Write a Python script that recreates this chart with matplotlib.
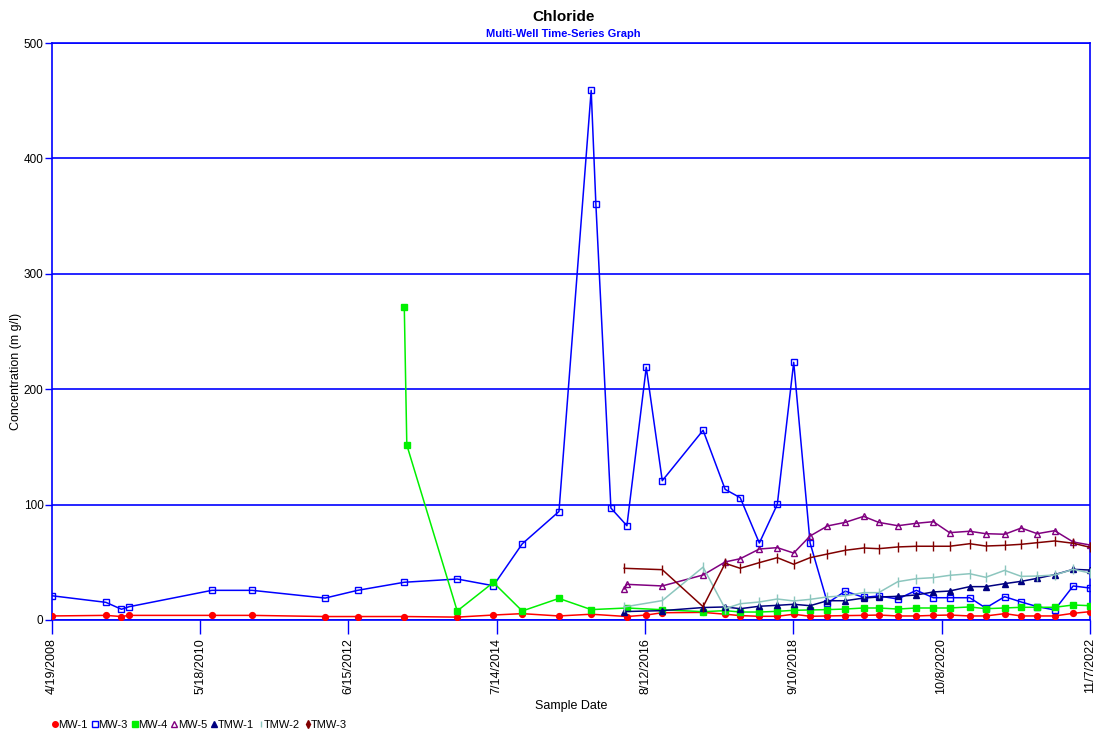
"""Chloride multi-well time-series chart."""

import matplotlib
matplotlib.use('Agg')
import matplotlib.pyplot as plt
from matplotlib.lines import Line2D
import pandas as pd

plt.rcParams['font.family'] = ['Liberation Sans', 'DejaVu Sans']

# ── Sample data (mg/l) ──
mw1_dates = ['2008-04-19', '2009-01-20', '2009-04-10', '2009-05-19', '2010-07-17', '2011-02-08',
             '2012-02-17', '2012-08-01', '2013-03-28', '2013-12-24', '2014-06-27', '2014-11-22',
             '2015-05-29', '2015-11-10', '2016-05-11', '2016-08-18', '2016-11-08', '2017-06-05',
             '2017-09-26', '2017-12-12', '2018-03-20', '2018-06-20', '2018-09-12', '2018-12-05',
             '2019-03-04', '2019-06-03', '2019-09-05', '2019-11-21', '2020-02-27', '2020-06-01',
             '2020-08-27', '2020-11-18', '2021-03-01', '2021-05-22', '2021-08-27', '2021-11-20',
             '2022-02-10', '2022-05-10', '2022-08-13', '2022-11-07']
mw1_vals = [3.5, 4, 3, 4, 4, 4, 3, 3, 3, 2.5, 4.3, 5.5, 3.5, 5, 3, 4.3, 6.3, 6.6, 5, 3.8,
            3.2, 3.2, 5, 3.2, 3.5, 3.8, 4, 4.3, 3.5, 3.5, 4, 4.3, 3.5, 3.5, 5.5, 3.5, 3.5,
            3.5, 5.8, 7.2]

mw3_dates = ['2008-04-19', '2009-01-20', '2009-04-10', '2009-05-19', '2010-07-17', '2011-02-08',
             '2012-02-17', '2012-08-01', '2013-03-28', '2013-12-24', '2014-06-27', '2014-11-22',
             '2015-05-29', '2015-11-10', '2015-12-04', '2016-02-19', '2016-05-11', '2016-08-18',
             '2016-11-08', '2017-06-05', '2017-09-26', '2017-12-12', '2018-03-20', '2018-06-20',
             '2018-09-12', '2018-12-05', '2019-03-04', '2019-06-03', '2019-09-05', '2019-11-21',
             '2020-02-27', '2020-06-01', '2020-08-27', '2020-11-18', '2021-03-01', '2021-05-22',
             '2021-08-27', '2021-11-20', '2022-02-10', '2022-05-10', '2022-08-13', '2022-11-07']
mw3_vals = [21, 15.3, 9.3, 11.5, 25.7, 25.7, 19, 25.7, 32.7, 35.5, 29.7, 66, 94, 459, 360.5,
            97, 81.7, 219, 120.7, 164.4, 113.2, 106, 66.7, 100.2, 223.3, 66.7, 14.7, 25,
            19.6, 20.8, 18.2, 25.7, 19.3, 19.3, 19.3, 10.4, 20.2, 15.6, 11.6, 8.7, 29.5, 27.7]

mw4_dates = ['2013-03-28', '2013-04-10', '2013-12-24', '2014-06-27', '2014-11-22', '2015-05-29',
             '2015-11-10', '2016-05-11', '2016-11-08', '2017-06-05', '2017-09-26', '2017-12-12',
             '2018-03-20', '2018-06-20', '2018-09-12', '2018-12-05', '2019-03-04', '2019-06-03',
             '2019-09-05', '2019-11-21', '2020-02-27', '2020-06-01', '2020-08-27', '2020-11-18',
             '2021-03-01', '2021-05-22', '2021-08-27', '2021-11-20', '2022-02-10', '2022-05-10',
             '2022-08-13', '2022-11-07']
mw4_vals = [271.5, 151.6, 7.8, 32.5, 7.8, 18.7, 9, 10.4, 8.9, 7.2, 8.1, 6.9, 6.9, 7.5, 8.4,
            8.7, 9, 9.5, 10.4, 10.4, 9.5, 10.4, 10.4, 10.4, 11.3, 9.8, 10.4, 11, 11, 11, 13, 12.4]

# newer wells share one sampling schedule (MW-5 has one extra early sample)
late_dates = ['2016-04-27', '2016-11-08', '2017-06-05', '2017-09-26', '2017-12-12', '2018-03-20',
              '2018-06-20', '2018-09-12', '2018-12-05', '2019-03-04', '2019-06-03', '2019-09-05',
              '2019-11-21', '2020-02-27', '2020-06-01', '2020-08-27', '2020-11-18', '2021-03-01',
              '2021-05-22', '2021-08-27', '2021-11-20', '2022-02-10', '2022-05-10', '2022-08-13',
              '2022-11-07']
mw5_dates = late_dates[:1] + ['2016-05-11'] + late_dates[1:]
mw5_vals = [26.9, 30.9, 29.5, 39, 50.3, 53.1, 61.5, 62.7, 58, 72.8, 81.5, 84.6, 89.8, 84.6,
            81.7, 83.8, 85.2, 75.7, 76.9, 74.8, 74.3, 79.7, 74.8, 77.4, 67.6, 65]
tmw1_vals = [7.3, 8.1, 10.8, 11.3, 9.8, 11.9, 12.7, 13.6, 12.4, 16.7, 16.7, 19, 19.9, 20.5,
             21.7, 24.3, 25.1, 28.9, 28.9, 31.5, 33.5, 36.1, 39.3, 43.9, 43.3]
tmw2_vals = [11.3, 16.8, 45.8, 9.8, 14.1, 15.6, 18.2, 16.5, 17.9, 20, 21, 23.7, 23.7, 33.2,
             35.8, 36.7, 38.7, 40.1, 37, 43, 37.8, 38.1, 39, 43.9, 40.7]
tmw3_vals = [44.8, 43.6, 11.5, 49.1, 44.8, 49.7, 54, 48.3, 54, 57.2, 60.4, 62.4, 61.8, 63.3,
             63.9, 63.9, 63.9, 66.1, 64.1, 64.7, 65.6, 67, 68.5, 66.5, 63]

tick_dates = ['2008-04-19', '2010-05-18', '2012-06-15', '2014-07-14', '2016-08-12',
              '2018-09-10', '2020-10-08', '2022-11-07']
tick_labels = ['4/19/2008', '5/18/2010', '6/15/2012', '7/14/2014', '8/12/2016',
               '9/10/2018', '10/8/2020', '11/7/2022']

AXIS_BLUE = '#0000FF'

# name, dates, values, color, marker, filled
series = [
    ('MW-1', mw1_dates, mw1_vals, '#FF0000', 'o', True),
    ('MW-3', mw3_dates, mw3_vals, '#0000FF', 's', False),
    ('MW-4', mw4_dates, mw4_vals, '#00F000', 's', True),
    ('MW-5', mw5_dates, mw5_vals, '#800080', '^', False),
    ('TMW-1', late_dates, tmw1_vals, '#000080', '^', True),
    ('TMW-2', late_dates, tmw2_vals, '#8CC6BE', '|', True),
    ('TMW-3', late_dates, tmw3_vals, '#800000', '|', True),
]

fig = plt.figure(figsize=(11.03, 7.38), dpi=100)
ax = fig.add_axes([0.0471, 0.1599, 0.9411, 0.7818])

handles = []
for name, dates, vals, color, marker, filled in series:
    x = pd.to_datetime(dates)
    face = color if filled else 'none'
    ms = 7 if marker == '|' else 4.2
    ax.plot(x, vals, color=color, lw=1.1, marker=marker, markersize=ms,
            markerfacecolor=face, markeredgecolor=color, markeredgewidth=1.0, zorder=3)
    lm = 'd' if name == 'TMW-3' else marker
    handles.append(Line2D([], [], ls='none', marker=lm, markersize=4,
                          color=color, markerfacecolor=face, markeredgecolor=color,
                          markeredgewidth=1.0, label=name))

ax.set_xlim(pd.Timestamp(tick_dates[0]), pd.Timestamp(tick_dates[-1]))
ax.set_ylim(0, 500)
ax.set_yticks([0, 100, 200, 300, 400, 500])
ax.set_xticks(pd.to_datetime(tick_dates))
ax.set_xticklabels(tick_labels, rotation=90, fontsize=9)
ax.tick_params(axis='y', labelsize=8.5, colors=AXIS_BLUE, labelcolor='black', length=5,
               width=1, pad=1)
ax.tick_params(axis='x', colors=AXIS_BLUE, labelcolor='black', length=10, width=1, pad=3)
ax.yaxis.grid(True, color=AXIS_BLUE, lw=1.2)
ax.set_axisbelow(True)
for sp in ax.spines.values():
    sp.set_color(AXIS_BLUE)
    sp.set_linewidth(1.2)

ax.set_xlabel('Sample Date', fontsize=9, labelpad=4)
fig.text(0.0145, 0.497, 'Concentration (m g/l)', rotation=90, ha='center', va='center',
         fontsize=9)

fig.text(0.5106, 0.9775, 'Chloride', ha='center', va='center', fontsize=11, fontweight='bold')
fig.text(0.5106, 0.9535, 'Multi-Well Time-Series Graph', ha='center', va='center',
         fontsize=8, fontweight='bold', color=AXIS_BLUE)

fig.legend(handles=handles, loc='lower left', bbox_to_anchor=(0.040, 0.0), ncol=7,
           frameon=False, fontsize=8, handlelength=0.5, handletextpad=0.05,
           columnspacing=0.4, borderpad=0.2)

fig.savefig('out.png', dpi=100)
plt.close(fig)
